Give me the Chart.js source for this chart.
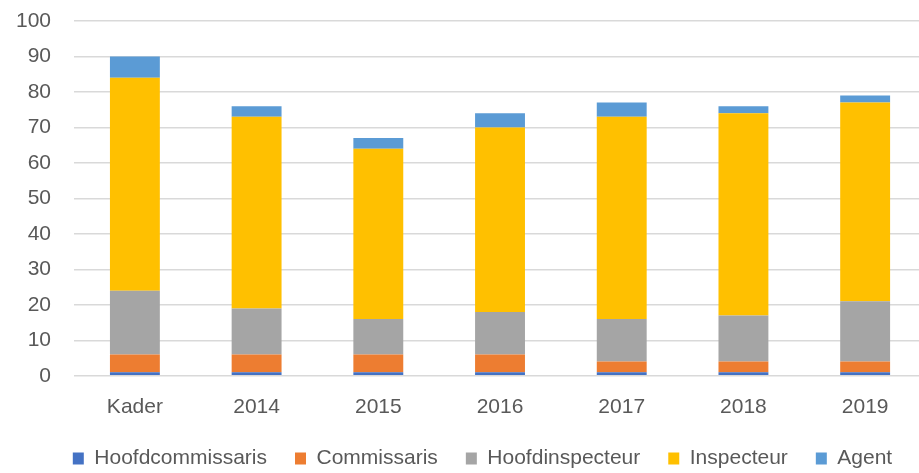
<!DOCTYPE html>
<html>
<head>
<meta charset="utf-8">
<script src="https://cdn.jsdelivr.net/npm/chart.js@4"></script>
<style>
  html, body { margin: 0; padding: 0; background: #fff; overflow: hidden; }
  #wrap { width: 919px; height: 473px; overflow: hidden; }
</style>
</head>
<body>
<div id="wrap"><canvas id="rangGraph" width="926" height="473"></canvas></div>
<script>
// categorieen en waarden per graad
var labels = ["Kader", "2014", "2015", "2016", "2017", "2018", "2019"];
var hoofdcommissaris = [1, 1, 1, 1, 1, 1, 1];
var commissaris = [5, 5, 5, 5, 3, 3, 3];
var hoofdinspecteur = [18, 13, 10, 12, 12, 13, 17];
var inspecteur = [60, 54, 48, 52, 57, 57, 56];
var agent = [6, 3, 3, 4, 4, 2, 2];
var yTicks = [0, 10, 20, 30, 40, 50, 60, 70, 80, 90, 100];

var textColor = "#595959";
var font = { family: "'Liberation Sans', Arial, sans-serif", size: 21 };

function ds(name, data, color) {
  return {
    label: name,
    data: data,
    backgroundColor: color,
    borderWidth: 0,
    barPercentage: 0.41,
    categoryPercentage: 1
  };
}

// legenda iets naar rechts schuiven zoals in het origineel
var legendShift = {
  id: "legendShift",
  afterLayout: function(chart) {
    chart.legend.left += 23;
    chart.legend.right += 23;
  }
};

var ctx = document.getElementById("rangGraph").getContext("2d");
var rangChart = new Chart(ctx, {
  type: "bar",
  data: {
    labels: labels,
    datasets: [
      ds("Hoofdcommissaris", hoofdcommissaris, "#4472C4"),
      ds("Commissaris", commissaris, "#ED7D31"),
      ds("Hoofdinspecteur", hoofdinspecteur, "#A5A5A5"),
      ds("Inspecteur", inspecteur, "#FFC000"),
      ds("Agent", agent, "#5B9BD5")
    ]
  },
  options: {
    responsive: false,
    animation: false,
    layout: { padding: { left: -7, top: 21, right: 0, bottom: -6 } },
    plugins: {
      tooltip: { enabled: false },
      legend: {
        position: "bottom",
        labels: {
          boxWidth: 11,
          boxHeight: 12,
          padding: 28,
          color: textColor,
          font: font
        }
      }
    },
    scales: {
      x: {
        stacked: true,
        grid: { display: false },
        border: { display: false },
        ticks: { color: textColor, font: font, padding: 11, maxRotation: 0 },
        afterFit: function(axis) { axis.height -= 11; }
      },
      y: {
        stacked: true,
        min: 0,
        max: 100,
        afterBuildTicks: function(axis) {
          axis.ticks = yTicks.map(function(v) { return { value: v }; });
        },
        afterFit: function(axis) { axis.paddingTop = 0; },
        grid: { color: "#d9d9d9", lineWidth: 1.5, drawTicks: false },
        border: { display: false },
        ticks: { color: textColor, font: font, padding: 23 }
      }
    }
  },
  plugins: [legendShift]
});
</script>
</body>
</html>
